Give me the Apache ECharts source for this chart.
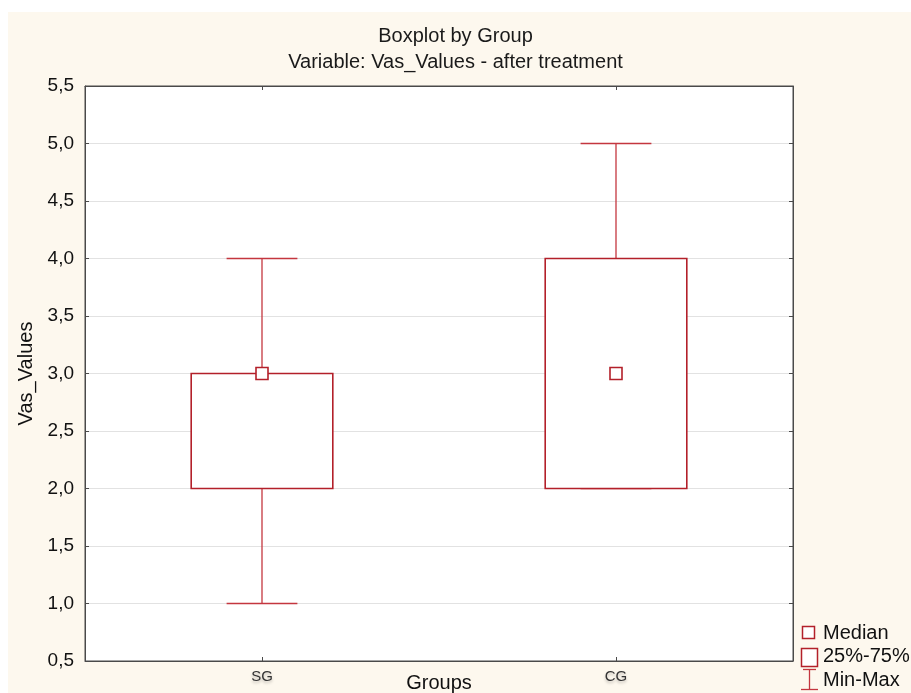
<!DOCTYPE html>
<html>
<head>
<meta charset="utf-8">
<script src="https://cdn.jsdelivr.net/npm/echarts@6/dist/echarts.min.js"></script>
<style>
html,body{margin:0;padding:0;background:#fff;}
#chart{width:911px;height:693px;}
</style>
</head>
<body>
<div id="chart"></div>
<script>
// ---- data ----
const categories = ['SG', 'CG'];
const minValues = [1.0, 2.0];
const q1Values = [2.0, 2.0];
const medianValues = [3.0, 3.0];
const q3Values = [3.0, 4.0];
const maxValues = [4.0, 5.0];
const yTicks = [0.5, 1.0, 1.5, 2.0, 2.5, 3.0, 3.5, 4.0, 4.5, 5.0, 5.5];

const RED = '#b3202a';
const WRED = '#c4363f';
const FONT = 'Liberation Sans, Arial, sans-serif';

const rows = categories.map((c, i) => [i, minValues[i], q1Values[i], medianValues[i], q3Values[i], maxValues[i]]);

const chart = echarts.init(document.getElementById('chart'));

function whiskerItem(params, api) {
  const i = api.value(0);
  const band = api.size([1, 0])[0];
  const capW = band * 0.2;
  const pMin = api.coord([i, api.value(1)]);
  const pQ1 = api.coord([i, api.value(2)]);
  const pQ3 = api.coord([i, api.value(4)]);
  const pMax = api.coord([i, api.value(5)]);
  const st = { stroke: WRED, lineWidth: 1.3 };
  return {
    type: 'group',
    children: [
      { type: 'line', shape: { x1: pMax[0], y1: pMax[1], x2: pQ3[0], y2: pQ3[1] }, style: st },
      { type: 'line', shape: { x1: pQ1[0], y1: pQ1[1], x2: pMin[0], y2: pMin[1] }, style: st },
      { type: 'line', shape: { x1: pMax[0] - capW / 2, y1: pMax[1], x2: pMax[0] + capW / 2, y2: pMax[1] }, style: st },
      { type: 'line', shape: { x1: pMin[0] - capW / 2, y1: pMin[1], x2: pMin[0] + capW / 2, y2: pMin[1] }, style: st }
    ]
  };
}
function boxItem(params, api) {
  const i = api.value(0);
  const band = api.size([1, 0])[0];
  const boxW = band * 0.4;
  const pQ1 = api.coord([i, api.value(2)]);
  const pQ3 = api.coord([i, api.value(4)]);
  return {
    type: 'rect',
    shape: { x: pQ1[0] - boxW / 2, y: pQ3[1], width: boxW, height: pQ1[1] - pQ3[1] },
    style: { fill: '#fff', stroke: RED, lineWidth: 1.6 }
  };
}
function medianItem(params, api) {
  const i = api.value(0);
  const p = api.coord([i, api.value(3)]);
  const s = 12;
  return {
    type: 'rect',
    shape: { x: p[0] - s / 2, y: p[1] - s / 2, width: s, height: s },
    style: { fill: '#fff', stroke: RED, lineWidth: 1.6 }
  };
}

const dims = ['cat', 'min', 'q1', 'median', 'q3', 'max'];

const option = {
  backgroundColor: '#fff',
  animation: false,
  textStyle: { fontFamily: FONT },
  title: [
    { text: 'Boxplot by Group', left: 'center', top: 21, textStyle: { fontSize: 20, fontWeight: 'normal', color: '#1a1a1a', fontFamily: FONT } },
    { text: 'Variable: Vas_Values - after treatment', left: 'center', top: 47, textStyle: { fontSize: 20, fontWeight: 'normal', color: '#1a1a1a', fontFamily: FONT } }
  ],
  graphic: [
    { type: 'rect', z: -100, shape: { x: 8, y: 12, width: 903, height: 681 }, style: { fill: '#fdf8ee' }, silent: true },
    // legend
    { type: 'rect', shape: { x: 802.5, y: 626.5, width: 12, height: 12 }, style: { fill: '#fff', stroke: RED, lineWidth: 1.5 } },
    { type: 'text', x: 823, y: 633, style: { text: 'Median', font: '20px ' + FONT, fill: '#111', verticalAlign: 'middle' } },
    { type: 'rect', shape: { x: 801.5, y: 648.5, width: 16, height: 18 }, style: { fill: '#fff', stroke: RED, lineWidth: 1.5 } },
    { type: 'text', x: 823, y: 656, style: { text: '25%-75%', font: '20px ' + FONT, fill: '#111', verticalAlign: 'middle' } },
    { type: 'polyline', shape: { points: [[803, 669.5], [816, 669.5]] }, style: { stroke: WRED, lineWidth: 1.3 } },
    { type: 'polyline', shape: { points: [[809.5, 669.5], [809.5, 689.5]] }, style: { stroke: WRED, lineWidth: 1.3 } },
    { type: 'polyline', shape: { points: [[801, 689.5], [818, 689.5]] }, style: { stroke: WRED, lineWidth: 1.3 } },
    { type: 'text', x: 823, y: 680, style: { text: 'Min-Max', font: '20px ' + FONT, fill: '#111', verticalAlign: 'middle' } }
  ],
  grid: {
    left: 85, top: 86, right: 118, bottom: 32,
    outerBoundsMode: 'none', containLabel: false,
    show: true, backgroundColor: '#fff', borderColor: '#4a4a4a', borderWidth: 1
  },
  xAxis: [
    {
      type: 'category', data: categories, position: 'bottom',
      axisLine: { show: true, lineStyle: { color: '#4a4a4a' } },
      axisTick: { show: true, inside: true, alignWithLabel: true, length: 4, lineStyle: { color: '#4a4a4a' } },
      axisLabel: { fontSize: 15, color: '#333', margin: 8, textShadowColor: 'rgba(0,0,0,0.25)', textShadowBlur: 3, textShadowOffsetY: 2 },
      name: 'Groups', nameLocation: 'middle', nameGap: 12, nameMoveOverlap: false,
      nameTextStyle: { fontSize: 20, color: '#111', verticalAlign: 'top' }
    },
    {
      type: 'category', data: categories, position: 'top',
      axisLine: { show: true, lineStyle: { color: '#4a4a4a' } },
      axisTick: { show: true, inside: true, alignWithLabel: true, length: 4, lineStyle: { color: '#4a4a4a' } },
      axisLabel: { show: false }
    }
  ],
  yAxis: [
    {
      type: 'value', min: yTicks[0], max: yTicks[yTicks.length - 1], interval: 0.5, position: 'left',
      axisLine: { show: true, lineStyle: { color: '#4a4a4a' } },
      axisTick: { show: true, inside: true, length: 4, lineStyle: { color: '#4a4a4a' } },
      axisLabel: { fontSize: 19, color: '#111', margin: 11, formatter: v => v.toFixed(1).replace('.', ',') },
      splitLine: { show: true, lineStyle: { color: '#e2e2e2', width: 1 } },
      name: 'Vas_Values', nameLocation: 'middle', nameGap: 49, nameRotate: 90, nameMoveOverlap: false,
      nameTextStyle: { fontSize: 20, color: '#111' }
    },
    {
      type: 'value', min: yTicks[0], max: yTicks[yTicks.length - 1], interval: 0.5, position: 'right',
      axisLine: { show: true, lineStyle: { color: '#4a4a4a' } },
      axisTick: { show: true, inside: true, length: 4, lineStyle: { color: '#4a4a4a' } },
      axisLabel: { show: false },
      splitLine: { show: false }
    }
  ],
  series: [
    { name: 'Min-Max', type: 'custom', renderItem: whiskerItem, data: rows, dimensions: dims, encode: { x: 0, y: [1, 2, 4, 5] }, z: 2 },
    { name: '25%-75%', type: 'custom', renderItem: boxItem, data: rows, dimensions: dims, encode: { x: 0, y: [2, 4] }, z: 3 },
    { name: 'Median', type: 'custom', renderItem: medianItem, data: rows, dimensions: dims, encode: { x: 0, y: 3 }, z: 4 }
  ]
};
chart.setOption(option);
</script>
</body>
</html>
